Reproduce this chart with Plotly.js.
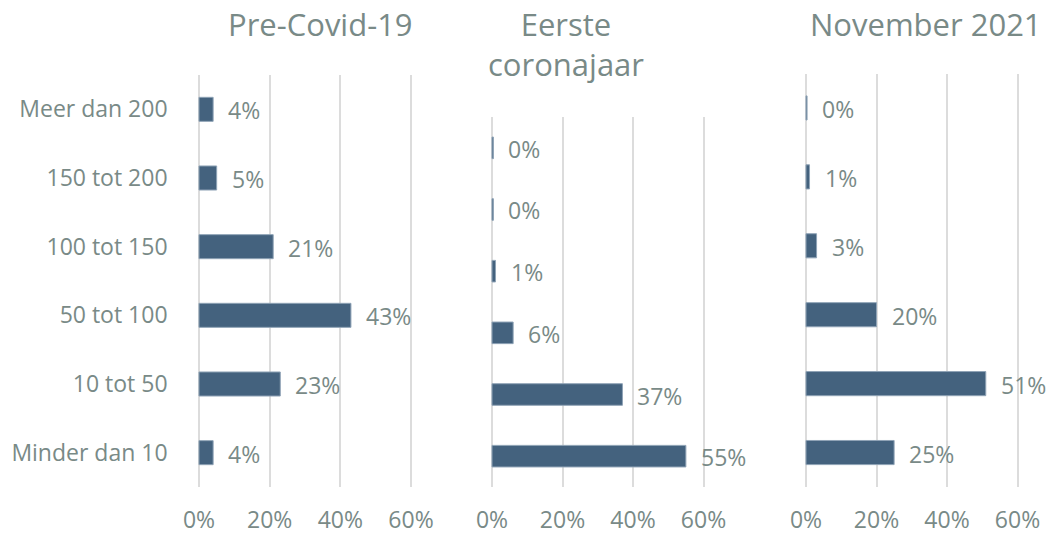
<!DOCTYPE html>
<html>
<head>
<meta charset="utf-8">
<script src="https://cdn.plot.ly/plotly-3.0.1.min.js"></script>
<style>html,body{margin:0;padding:0;background:#fff;}#chart{width:1050px;height:535px;}</style>
</head>
<body>
<div id="chart"></div>
<script>
// ---- data ----
const categories = ['Meer dan 200', '150 tot 200', '100 tot 150', '50 tot 100', '10 tot 50', 'Minder dan 10'];
const panelTitles = ['Pre-Covid-19', 'Eerste<br>coronajaar', 'November 2021'];
const preCovid = [0.04, 0.05, 0.21, 0.43, 0.23, 0.04];
const eersteJaar = [0.004, 0.004, 0.01, 0.06, 0.37, 0.55];
const november2021 = [0.003, 0.01, 0.03, 0.20, 0.51, 0.25];
const xTickVals = [0, 0.2, 0.4, 0.6];
const xTickText = ['0%', '20%', '40%', '60%'];

// ---- style ----
const W = 1050, H = 535;
const textColor = '#798a87';
const barColor = '#44627e';
const fontFamily = '"Open Sans", "Noto Sans", sans-serif';
const series = [preCovid, eersteJaar, november2021];
// pixel geometry of each panel: [x of 0%, x of 60%, top, bottom]
const boxes = [[199, 411, 75, 487], [492, 703.5, 117, 487], [806, 1017.5, 73.5, 487]];
const titlePos = [[320, 24], [566, 44], [926, 24]];
const pad = 0.004; // range padding so edge gridlines are drawn

const traces = [];
const annotations = [];
const layout = {
  width: W, height: H,
  margin: {l: 0, r: 0, t: 0, b: 0},
  paper_bgcolor: '#fff', plot_bgcolor: 'rgba(0,0,0,0)',
  showlegend: false,
  font: {family: fontFamily, size: 23, color: textColor},
  bargap: 0.65,
  annotations: annotations
};

series.forEach((vals, i) => {
  const n = i === 0 ? '' : String(i + 1);
  const b = boxes[i];
  const pxPerUnit = (b[1] - b[0]) / 0.6;
  const left = b[0] - pad * pxPerUnit, right = b[1] + pad * pxPerUnit;
  traces.push({
    type: 'bar', orientation: 'h',
    x: vals, y: categories,
    xaxis: 'x' + n, yaxis: 'y' + n,
    marker: {color: barColor, line: {color: '#8fa3b6', width: 1}},
    hoverinfo: 'skip'
  });
  layout['xaxis' + n] = {
    domain: [left / W, right / W],
    range: [-pad, 0.6 + pad],
    anchor: 'y' + n,
    tickvals: xTickVals, ticktext: xTickText,
    showgrid: true, gridcolor: '#dcdcdc', gridwidth: 2,
    zeroline: false, showline: false,
    ticks: '', ticklabelstandoff: 17,
    tickfont: {size: 23, color: textColor, family: fontFamily},
    fixedrange: true
  };
  layout['yaxis' + n] = {
    domain: [1 - b[3] / H, 1 - b[2] / H],
    anchor: 'x' + n,
    type: 'category',
    categoryorder: 'array', categoryarray: categories,
    autorange: 'reversed',
    showgrid: false, zeroline: false, showline: false,
    showticklabels: i === 0,
    ticks: '', ticklabelstandoff: 29,
    tickfont: {size: 23, color: textColor, family: fontFamily},
    fixedrange: true
  };
  vals.forEach((v, j) => {
    annotations.push({
      xref: 'x' + n, yref: 'y' + n,
      x: v, y: categories[j],
      text: Math.round(v * 100) + '%',
      showarrow: false, xanchor: 'left', yanchor: 'middle',
      xshift: 13, yshift: -1,
      font: {size: 23, color: textColor, family: fontFamily}
    });
  });
  annotations.push({
    xref: 'paper', yref: 'paper',
    x: titlePos[i][0] / W, y: 1 - titlePos[i][1] / H,
    text: panelTitles[i], showarrow: false,
    xanchor: 'center', yanchor: 'middle',
    font: {size: 31, color: textColor, family: fontFamily}
  });
});

Plotly.newPlot('chart', traces, layout, {displayModeBar: false, staticPlot: true});
</script>
</body>
</html>
